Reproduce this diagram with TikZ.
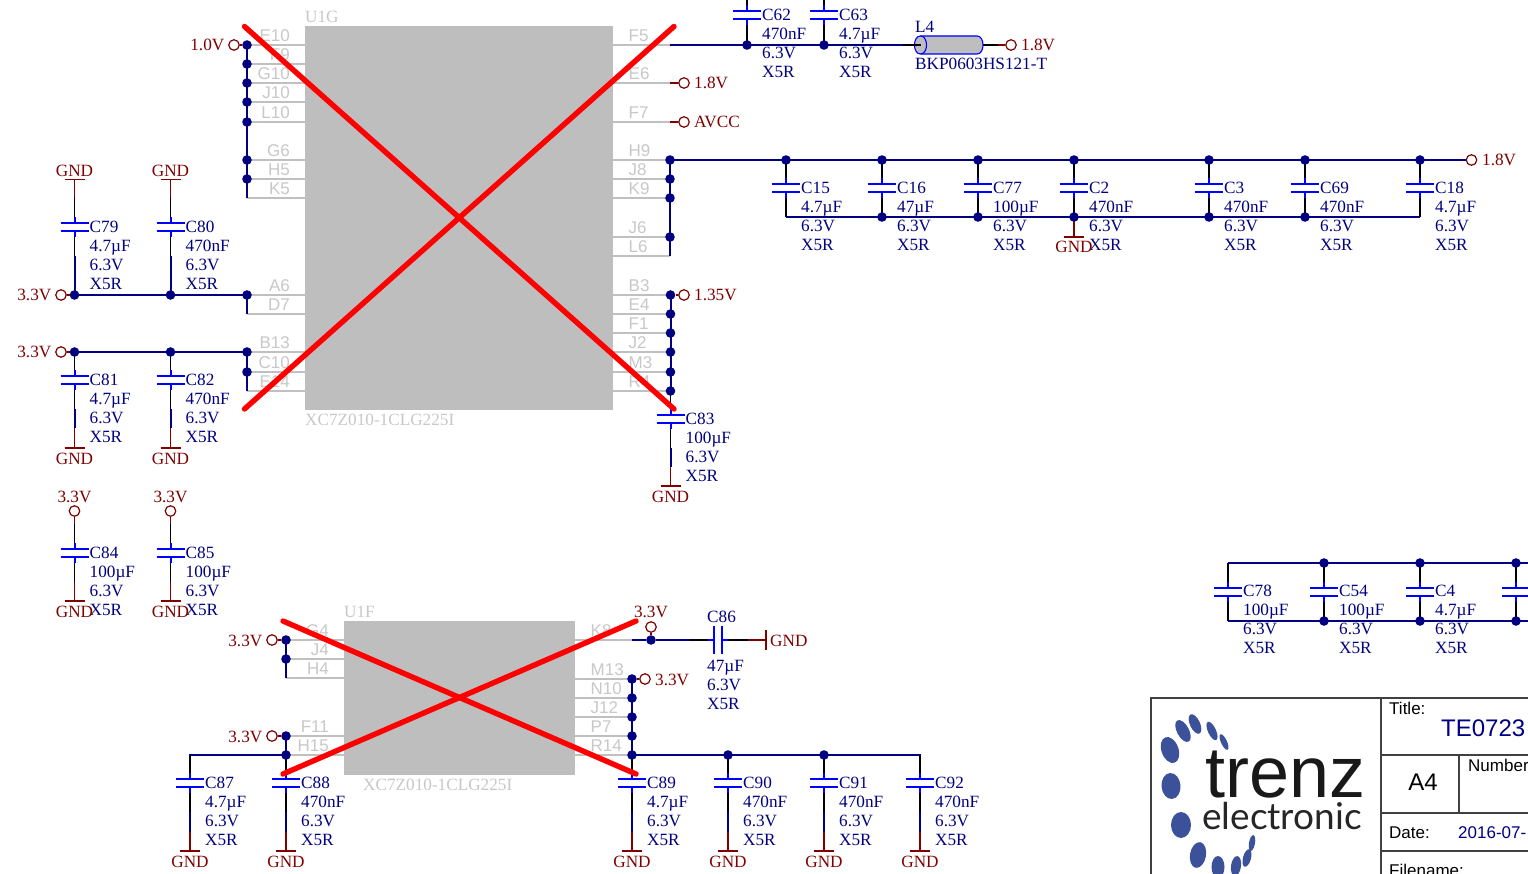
\documentclass[tikz,border=0pt]{standalone}
\usepackage{fontspec}
\setmainfont{Liberation Serif}
\setsansfont{Liberation Sans}
\newfontfamily\logofont{Liberation Sans}
\newfontfamily\logolight{Lato}
\definecolor{wireblue}{HTML}{000080}
\definecolor{plateblue}{HTML}{0000FF}
\definecolor{portred}{HTML}{800000}
\definecolor{pingray}{HTML}{C0C0C0}
\definecolor{chipgray}{HTML}{BEBEBE}
\definecolor{labgray}{HTML}{C8C8C8}
\definecolor{logoblue}{HTML}{3B5199}
\tikzset{
 wire/.style={draw=wireblue,line width=2pt},
 lead/.style={draw=black,line width=1.7pt},
 platel/.style={draw=plateblue,line width=2pt},
 portl/.style={draw=portred,line width=1.7pt},
 pinl/.style={draw=pingray,line width=1.6pt},
 crossl/.style={draw=red,line width=5.4pt,line cap=round},
 jdotn/.style={circle,fill=wireblue,inner sep=0pt,minimum size=9.6pt},
 portc/.style={circle,draw=portred,fill=white,line width=1.2pt,inner sep=0pt,minimum size=10.5pt},
 ctext/.style={font=\fontsize{17.2}{19}\selectfont,text=wireblue,inner sep=0pt,anchor=base west},
 ptext/.style={font=\fontsize{17.2}{19}\selectfont,text=portred,inner sep=0pt},
 pinname/.style={font=\sffamily\fontsize{17}{19}\selectfont,text=labgray,inner sep=0pt},
 chipname/.style={font=\fontsize{17.2}{19}\selectfont,text=labgray,inner sep=0pt,anchor=base west},
 tbl/.style={font=\sffamily\fontsize{17}{19}\selectfont,text=black,inner sep=0pt,anchor=base west},
 tbv/.style={font=\sffamily\fontsize{17}{19}\selectfont,text=wireblue,inner sep=0pt,anchor=base west},
 frame/.style={draw=black!75,line width=1.1pt},
}
\newcommand{\ctoff}{0.4}
% vertical capacitor: name, x, cy, designator, value
\newcommand{\capv}[5]{%
 \coordinate (#1t) at (#2,#3-29);
 \coordinate (#1b) at (#2,#3+29);
 \coordinate (#1u) at (#2,#3-4);
 \coordinate (#1d) at (#2,#3+4);
 \draw[lead] (#1t) -- (#1u);
 \draw[lead] (#1b) -- (#1d);
 \draw[platel] (#2,#3-10) -- (#1u) (#2,#3+10) -- (#1d);
 \draw[platel] (#2-14,#3-4) -- (#2+14,#3-4) (#2-14,#3+4) -- (#2+14,#3+4);
 \node[ctext] (#1n) at (#2+15,#3+5+\ctoff) {#4};
 \node[ctext] (#1v) at (#2+15,#3+24+\ctoff) {#5};
 \node[ctext] (#1w) at (#2+15,#3+43+\ctoff) {6.3V};
 \node[ctext] (#1x) at (#2+15,#3+62+\ctoff) {X5R};
}
% junction dot
\newcommand{\jd}[3]{\node[jdotn] (#1) at (#2,#3) {};}
% GND below a point: name, x, y start, y bar
\newcommand{\gndb}[4]{%
 \coordinate (#1s) at (#2,#3); \coordinate (#1r) at (#2,#4);
 \draw[portl] (#1s) -- (#1r);
 \draw[portl] (#2-10,#4) -- (#2+10,#4);
 \node[ptext,anchor=base] (#1n) at (#2,#4+16) {GND};
}
\newcommand{\gndt}[4]{%
 \coordinate (#1s) at (#2,#3); \coordinate (#1r) at (#2,#4);
 \draw[portl] (#1s) -- (#1r);
 \draw[portl] (#2-10,#4) -- (#2+10,#4);
 \node[ptext,anchor=base] (#1n) at (#2,#4-3) {GND};
}
% pins: name, x inner, y, x chip edge, label
\newcommand{\pinL}[5]{%
 \coordinate (#1) at (#2,#3);
 \coordinate (#1c) at (#4,#3);
 \draw[pinl] (#1) -- (#1c);
 \node[pinname,anchor=base east] (#1l) at (#4-15,#3-3.2) {#5};
}
\newcommand{\pinR}[5]{%
 \coordinate (#1) at (#2,#3);
 \coordinate (#1c) at (#4,#3);
 \draw[pinl] (#1c) -- (#1);
 \node[pinname,anchor=base west] (#1l) at (#4+15.5,#3-3.2) {#5};
}
\begin{document}
\begin{tikzpicture}[x=1pt,y=-1pt]
\useasboundingbox (0,0) rectangle (1528,874);
\clip (0,0) rectangle (1528,874);
\fill[white] (0,0) rectangle (1528,874);

%% U1G
\node[draw=none,fill=chipgray,minimum width=308pt,minimum height=384pt,inner sep=0pt,anchor=north west] (ug) at (305,26) {};
\node[chipname] (ugn) at (305,22.5) {U1G};
\node[chipname] (ugp) at (305,425) {XC7Z010-1CLG225I};
\pinL{a1}{247}{45}{305}{E10}\pinL{a2}{247}{64}{305}{F9}\pinL{a3}{247}{83}{305}{G10}
\pinL{a4}{247}{102}{305}{J10}\pinL{a5}{247}{122}{305}{L10}\pinL{a6}{247}{160}{305}{G6}
\pinL{a7}{247}{179}{305}{H5}\pinL{a8}{247}{198}{305}{K5}\pinL{a9}{247}{295}{305}{A6}
\pinL{a10}{247}{314}{305}{D7}\pinL{a11}{247}{352}{305}{B13}\pinL{a12}{247}{372}{305}{C10}
\pinL{a13}{247}{391}{305}{E14}
\pinR{b1}{670}{45}{613}{F5}\pinR{b2}{670}{83}{613}{E6}\pinR{b3}{670}{122}{613}{F7}
\pinR{b4}{670}{160}{613}{H9}\pinR{b5}{670}{179}{613}{J8}\pinR{b6}{670}{198}{613}{K9}
\pinR{b7}{670}{237}{613}{J6}\pinR{b8}{670}{256}{613}{L6}\pinR{b9}{670}{295}{613}{B3}
\pinR{b10}{670}{314}{613}{E4}\pinR{b11}{670}{333}{613}{F1}\pinR{b12}{670}{352}{613}{J2}
\pinR{b13}{670}{372}{613}{M3}\pinR{b14}{670}{391}{613}{R4}

%% U1F
\node[fill=chipgray,minimum width=231pt,minimum height=154pt,inner sep=0pt,anchor=north west] (uf) at (344,621) {};
\node[chipname] (ufn) at (344,617.5) {U1F};
\node[chipname] (ufp) at (363,790) {XC7Z010-1CLG225I};
\pinL{c1}{286}{640}{344}{G4}\pinL{c2}{286}{659}{344}{J4}\pinL{c3}{286}{678}{344}{H4}
\pinL{c4}{286}{736}{344}{F11}\pinL{c5}{286}{755}{344}{H15}
\pinR{d1}{632}{640}{575}{K8}\pinR{d2}{632}{679}{575}{M13}\pinR{d3}{632}{698}{575}{N10}
\pinR{d4}{632}{717}{575}{J12}\pinR{d5}{632}{736}{575}{P7}\pinR{d6}{632}{755}{575}{R14}

%% capacitors
\capv{C79}{74.5}{227}{C79}{4.7µF}
\capv{C80}{170.5}{227}{C80}{470nF}
\capv{C81}{74.5}{380}{C81}{4.7µF}
\capv{C82}{170.5}{380}{C82}{470nF}
\capv{C83}{670.5}{419}{C83}{100µF}
\capv{C84}{74.5}{553}{C84}{100µF}
\capv{C85}{170.5}{553}{C85}{100µF}
\capv{C62}{747}{15}{C62}{470nF}
\capv{C63}{824}{15}{C63}{4.7µF}
\capv{C15}{786}{188}{C15}{4.7µF}
\capv{C16}{882}{188}{C16}{47µF}
\capv{C77}{978}{188}{C77}{100µF}
\capv{C2}{1074}{188}{C2}{470nF}
\capv{C3}{1209}{188}{C3}{470nF}
\capv{C69}{1305}{188}{C69}{470nF}
\capv{C18}{1420}{188}{C18}{4.7µF}
\renewcommand{\ctoff}{-1}
\capv{C78}{1228}{592}{C78}{100µF}
\capv{C54}{1324}{592}{C54}{100µF}
\capv{C4}{1420}{592}{C4}{4.7µF}
\renewcommand{\ctoff}{0.4}
\capv{C87}{190}{783}{C87}{4.7µF}
\capv{C88}{286}{783}{C88}{470nF}
\capv{C89}{632}{783}{C89}{4.7µF}
\capv{C90}{728}{783}{C90}{470nF}
\capv{C91}{824}{783}{C91}{470nF}
\capv{C92}{920}{783}{C92}{470nF}
% capacitor cut by the page edge
\coordinate (Cxt) at (1516,563); \coordinate (Cxb) at (1516,621);
\coordinate (Cxu) at (1516,588); \coordinate (Cxd) at (1516,596);
\draw[lead] (Cxt) -- (Cxu) (Cxb) -- (Cxd);
\draw[platel] (1502,588) -- (1530,588) (1502,596) -- (1530,596);
\draw[platel] (1516,582) -- (Cxu) (1516,602) -- (Cxd);

%% GND symbols
\gndt{g79}{74.5}{198}{179.5}
\gndt{g80}{170.5}{198}{179.5}
\gndb{g81}{74.5}{428}{448}
\gndb{g82}{170.5}{428}{448}
\gndb{g83}{670.5}{467}{486}
\gndb{g84}{74.5}{582}{601}
\gndb{g85}{170.5}{582}{601}
\gndb{g2}{1074}{218}{237}
\gndb{g87}{190}{832}{851}
\gndb{g88}{286}{832}{851}
\gndb{g89}{632}{832}{851}
\gndb{g90}{728}{832}{851}
\gndb{g91}{824}{832}{851}
\gndb{g92}{920}{832}{851}
\draw[wire] (C81b) -- (g81s);
\draw[wire] (C82b) -- (g82s);
\draw[wire] (C83b) -- (g83s);
\draw[wire] (C87b) -- (g87s);
\draw[wire] (C88b) -- (g88s);
\draw[wire] (C89b) -- (g89s);
\draw[wire] (C90b) -- (g90s);
\draw[wire] (C91b) -- (g91s);
\draw[wire] (C92b) -- (g92s);

%% wires
\coordinate (jgL) at (786,217); \coordinate (jgR) at (1420,217);
\draw[wire] (a1) -- (a8);
\draw[wire] (247,295) -- (a10);
\draw[wire] (74.5,295) -- (247,295);
\draw[wire] (C79b) -- (74.5,295) (C80b) -- (170.5,295);
\draw[wire] (74.5,352) -- (247,352) -- (a13);
\draw[wire] (C81t) -- (74.5,352) (C82t) -- (170.5,352);
\coordinate (f5s) at (670,45); \coordinate (l4a) at (903,45); \coordinate (l4b) at (921,45);
\draw[wire] (f5s) -- (l4a);
\draw[wire] (670,160) -- (1466,160);
\draw[wire] (b4) -- (b8);
\draw[wire] (jgL) -- (jgR);
\draw[wire] (670.5,295) -- (670.5,391);
\draw[lead] (670.5,391) -- (C83t);
\draw[wire] (1228,563) -- (1528,563);
\draw[wire] (1228,621) -- (1528,621);
\draw[wire] (286,640) -- (c3);
\draw[wire] (286,736) -- (286,755) -- (190,755) -- (C87t);
\draw[lead] (286,755) -- (C88t);
\draw[wire] (632,679) -- (632,755) -- (920,755) -- (C92t);
\draw[lead] (632,755) -- (C89t);

%% junctions
\jd{ja1}{247}{45}\jd{ja2}{247}{64}\jd{ja3}{247}{83}\jd{ja4}{247}{102}\jd{ja5}{247}{122}
\jd{ja6}{247}{160}\jd{ja7}{247}{179}
\jd{jb1}{74.5}{295}\jd{jb2}{170.5}{295}\jd{jb3}{247}{295}
\jd{jc1}{74.5}{352}\jd{jc2}{170.5}{352}\jd{jc3}{247}{352}\jd{jc4}{247}{372}
\jd{jd1}{747}{45}\jd{jd2}{824}{45}
\jd{je1}{670}{160}\jd{je2}{670}{179}\jd{je3}{670}{198}\jd{je4}{670}{237}
\jd{jf1}{786}{160}\jd{jf2}{882}{160}\jd{jf3}{978}{160}\jd{jf4}{1074}{160}\jd{jf5}{1209}{160}\jd{jf6}{1305}{160}\jd{jf7}{1420}{160}
\jd{jg2}{882}{217}\jd{jg3}{978}{217}\jd{jg4}{1074}{217}\jd{jg5}{1209}{217}\jd{jg6}{1305}{217}
\jd{jh1}{670.5}{295}\jd{jh2}{670.5}{314}\jd{jh3}{670.5}{333}\jd{jh4}{670.5}{352}\jd{jh5}{670.5}{372}\jd{jh6}{670.5}{391}
\jd{ji1}{1324}{563}\jd{ji2}{1420}{563}\jd{ji3}{1516}{563}
\jd{jk1}{1324}{621}\jd{jk2}{1420}{621}\jd{jk3}{1516}{621}
\jd{jl1}{286}{640}\jd{jl2}{286}{659}\jd{jl3}{286}{736}\jd{jl4}{286}{755}
\jd{jm1}{632}{679}\jd{jm2}{632}{698}\jd{jm3}{632}{717}\jd{jm4}{632}{736}\jd{jm5}{632}{755}
\jd{jm6}{728}{755}\jd{jm7}{824}{755}\jd{jn1}{651}{640}

%% ports
\node[portc] (p10) at (234,45) {};
\node[ptext,anchor=base east] (p10t) at (224.5,51) {1.0V};
\node[portc] (p33a) at (61,295) {};
\node[ptext,anchor=base east] (p33at) at (51.5,301) {3.3V};
\node[portc] (p33b) at (61,352) {};
\node[ptext,anchor=base east] (p33bt) at (51.5,358) {3.3V};
\node[portc] (p18a) at (684,83) {};
\node[ptext,anchor=base west] (p18at) at (694,89) {1.8V};
\node[portc] (pav) at (684,122) {};
\node[ptext,anchor=base west] (pavt) at (694,128) {AVCC};
\node[portc] (p18b) at (1011,45) {};
\node[ptext,anchor=base west] (p18bt) at (1021,51) {1.8V};
\node[portc] (p18c) at (1471.5,160) {};
\node[ptext,anchor=base west] (p18ct) at (1482,166) {1.8V};
\node[portc] (p135) at (684,295) {};
\node[ptext,anchor=base west] (p135t) at (694,301) {1.35V};
\node[portc] (p33c) at (74.5,511) {};
\node[ptext,anchor=base] (p33ct) at (74.5,502) {3.3V};
\node[portc] (p33d) at (170.5,511) {};
\node[ptext,anchor=base] (p33dt) at (170.5,502) {3.3V};
\node[portc] (p33e) at (272,640) {};
\node[ptext,anchor=base east] (p33et) at (262.5,646) {3.3V};
\node[portc] (p33f) at (272,736) {};
\node[ptext,anchor=base east] (p33ft) at (262.5,742) {3.3V};
\node[portc] (p33g) at (651,627) {};
\node[ptext,anchor=base] (p33gt) at (651,617) {3.3V};
\node[portc] (p33h) at (645,679) {};
\node[ptext,anchor=base west] (p33ht) at (655,685) {3.3V};

\draw[portl] (p10) -- (ja1);
\draw[portl] (p33a) -- (jb1);
\draw[portl] (p33b) -- (jc1);
\draw[portl] (b2) -- (p18a) (b3) -- (pav);
\draw[portl] (jf7) ++(46,0) -- (p18c);
\draw[portl] (jh1) -- (p135);
\draw[portl] (p33c) -- (C84t) (p33d) -- (C85t);
\draw[portl] (p33e) -- (jl1);
\draw[portl] (p33f) -- (jl3);
\draw[wire] (d1) -- (jn1);
\draw[portl] (jn1) -- (p33g);
\draw[portl] (jm1) -- (p33h);

%% C86
\coordinate (c86a) at (714,640); \coordinate (c86b) at (722,640);
\coordinate (c86w) at (690,640); \coordinate (c86e) at (748,640); \coordinate (c86g) at (766,640);
\draw[wire] (jn1) -- (c86w);
\draw[lead] (c86w) -- (c86a) (c86b) -- (c86e);
\draw[platel] (708,640) -- (c86a) (c86b) -- (728,640);
\draw[platel] (714,626) -- (714,654) (722,626) -- (722,654);
\draw[portl] (c86e) -- (c86g);
\draw[portl] (766,630) -- (766,650);
\node[ptext,anchor=base west] (g86) at (770,646) {GND};
\node[ctext] (C86n) at (707,622) {C86};
\node[ctext] (C86v) at (707,671) {47µF};
\node[ctext] (C86w) at (707,690) {6.3V};
\node[ctext] (C86x) at (707,709) {X5R};

%% L4 ferrite bead
\filldraw[fill=chipgray,draw=plateblue,line width=1.1pt] (920.5,36) -- (977,36) .. controls (985,36) and (985,54) .. (977,54) -- (920.5,54) .. controls (912.5,54) and (912.5,36) .. (920.5,36) -- cycle;
\draw[draw=plateblue,line width=1.1pt] (920.5,36) .. controls (928.5,36) and (928.5,54) .. (920.5,54);
\draw[lead] (l4a) -- (l4b);
\coordinate (l4r) at (983,45); \coordinate (l4s) at (998,45);
\draw[lead] (l4r) -- (l4s);
\draw[portl] (l4s) -- (p18b);
\node[ctext] (L4n) at (915,32.5) {L4};
\node[ctext] (L4v) at (915,70) {BKP0603HS121-T};

%% crosses
\coordinate (x1a) at (244.5,26.5); \coordinate (x1b) at (674,409);
\coordinate (x2a) at (244.5,409); \coordinate (x2b) at (674,26.5);
\draw[crossl] (x1a) -- (x1b);
\draw[crossl] (x2a) -- (x2b);
\coordinate (x3a) at (283,621); \coordinate (x3b) at (636,774);
\coordinate (x4a) at (283,774); \coordinate (x4b) at (636,621);
\draw[crossl] (x3a) -- (x3b);
\draw[crossl] (x4a) -- (x4b);

%% title block
\coordinate (t1) at (1151,874); \coordinate (t2) at (1151,698); \coordinate (t3) at (1528,698);
\draw[frame] (t1) -- (t2) -- (t3);
\coordinate (t4) at (1381,698); \coordinate (t5) at (1381,874);
\draw[frame] (t4) -- (t5);
\draw[frame] (1381,755) -- (1528,755);
\draw[frame] (1381,813) -- (1528,813);
\draw[frame] (1381,851) -- (1528,851);
\draw[frame] (1459,755) -- (1459,813);
\node[tbl] (tt) at (1389,714) {Title:};
\node[font=\sffamily\fontsize{24}{26}\selectfont,text=wireblue,inner sep=0pt,anchor=base west] (ttv) at (1441,736) {TE0723};
\node[font=\sffamily\fontsize{24}{26}\selectfont,inner sep=0pt,anchor=base] (a4) at (1423,790) {A4};
\node[tbl] (num) at (1468,771) {Number};
\node[tbl] (dat) at (1389,838) {Date:};
\node[tbv] (datv) at (1458,838) {2016-07-};
\node[tbl] (fil) at (1389,876) {Filename:};

%% logo
\foreach \x/\y/\a/\b/\r in {1170/750/8.5/13.5/20,1183/731/6/12/28,1195/724/5/10.5/25,1212/731/4/10/25,1224/742/3/8.5/25,1171/786/9.5/13/5,1181/825/10/13/0,1198/855/8/13/-10,1218/867/6.5/11/0,1236/866/5/10/-8,1247/858/4/9/-15,1252/843/3/8/-10}
  \fill[logoblue] (\x,\y) ellipse[x radius=\a,y radius=\b,rotate=\r];
\node[inner sep=0pt,anchor=base west,text=black!90,font=\logofont\fontsize{72}{72}\selectfont] (trenz) at (1205,797) {trenz};
\node[inner sep=0pt,anchor=base west,text=black!85,font=\logolight\fontsize{37}{37}\selectfont] (elec) at (1202,829) {electronic};
\end{tikzpicture}
\end{document}
